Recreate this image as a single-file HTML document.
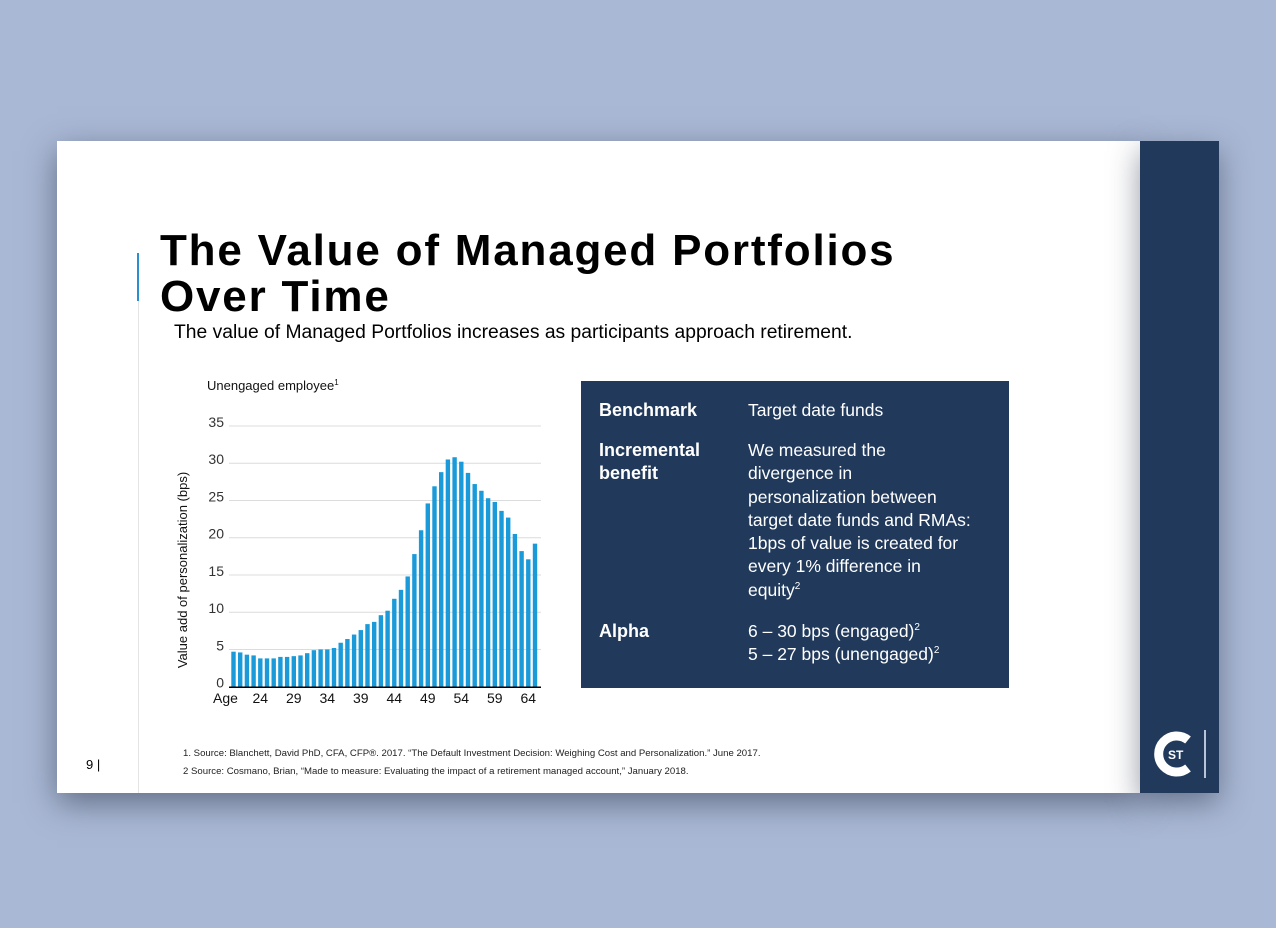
<!DOCTYPE html>
<html><head><meta charset="utf-8"><style>
body{margin:0;width:1276px;height:928px;background:#a9b8d5;position:relative;overflow:hidden;font-family:"Liberation Sans",sans-serif}
.abs{position:absolute}
#slide{left:57px;top:141px;width:1083px;height:652px;background:#fff;box-shadow:0 10px 30px rgba(40,50,70,.55)}
#strip{left:1140px;top:141px;width:79px;height:652px;background:#213a5c;box-shadow:0 10px 30px rgba(40,50,70,.5)}
h1{margin:0;font-weight:bold;font-size:44px;line-height:46px;color:#000;left:160px;top:228px;letter-spacing:1.8px}
.box{left:581px;top:381px;width:428px;height:307px;background:#213a5c;color:#fff}
.lab{position:absolute;left:18px;font-weight:bold;font-size:18px;line-height:23px}
.txt{position:absolute;left:167px;font-size:17.5px;line-height:23.3px}
sup{font-size:10px;line-height:0}
.fn{left:183px;font-size:9.6px;color:#222}
</style></head><body>
<div id="slide" class="abs"></div>
<div id="strip" class="abs"></div>
<div class="abs" style="left:137px;top:253px;width:2px;height:48px;background:#2a8fd0"></div>
<div class="abs" style="left:138px;top:301px;width:1px;height:492px;background:#e4e4e4"></div>
<h1 class="abs">The Value of Managed Portfolios<br>Over Time</h1>
<div class="abs" style="left:174px;top:322px;font-size:19.3px">The value of Managed Portfolios increases as participants approach retirement.</div>
<svg class="abs" style="left:0;top:0" width="600" height="720" id="chart"></svg>
<div class="abs box">
<div class="lab" style="top:18px">Benchmark</div>
<div class="txt" style="top:18px">Target date funds</div>
<div class="lab" style="top:58px">Incremental<br>benefit</div>
<div class="txt" style="top:58px;width:226px">We measured the divergence in personalization between target date funds and RMAs: 1bps of value is created for every 1% difference in equity<sup>2</sup></div>
<div class="lab" style="top:239px">Alpha</div>
<div class="txt" style="top:239px">6 – 30 bps (engaged)<sup>2</sup><br>5 – 27 bps (unengaged)<sup>2</sup></div>
</div>
<div class="abs" style="left:86px;top:757px;font-size:13px">9 |</div>
<div class="abs fn" style="top:748px">1. Source: Blanchett, David PhD, CFA, CFP®. 2017. “The Default Investment Decision: Weighing Cost and Personalization.” June 2017.</div>
<div class="abs fn" style="top:766px">2 Source: Cosmano, Brian, “Made to measure: Evaluating the impact of a retirement managed account,” January 2018.</div>
<svg class="abs" style="left:1150px;top:726px" width="62" height="56">
<path d="M 38 14 A 18 18 0 1 0 38 42" stroke="#fff" stroke-width="9" fill="none"/>
<text x="18" y="33" font-size="12" font-weight="bold" fill="#fff" font-family="Liberation Sans">ST</text>
<rect x="54" y="4" width="2" height="48" fill="#b8c4d8"/>
</svg>
<script>
const ages=[];for(let a=20;a<=65;a++)ages.push(a);
const values=[4.7,4.6,4.3,4.2,3.8,3.8,3.8,4.0,4.0,4.1,4.2,4.5,4.9,5.0,5.0,5.2,5.9,6.4,7.0,7.6,8.4,8.7,9.6,10.2,11.8,13.0,14.8,17.8,21.0,24.6,26.9,28.8,30.5,30.8,30.2,28.7,27.2,26.3,25.3,24.8,23.6,22.7,20.5,18.2,17.1,19.2];
const yTicks=[0,5,10,15,20,25,30,35];
const xLabels=[24,29,34,39,44,49,54,59,64];
const svg=document.getElementById('chart');const NS='http://www.w3.org/2000/svg';
const y0=686.7,pu=7.45,x0=233.5,step=6.7;
const Y=v=>y0-v*pu, X=a=>x0+(a-20)*step;
function mk(t,at){const e=document.createElementNS(NS,t);for(const k in at)e.setAttribute(k,at[k]);svg.appendChild(e);return e;}
yTicks.forEach(v=>{
 if(v>0){const g=mk('line',{x1:229,x2:541,y1:Y(v),y2:Y(v),stroke:'#dcdcdc','stroke-width':1});
 
 }
 const t=mk('text',{x:224,y:Y(v)+1,'text-anchor':'end','font-size':14,fill:'#333','font-family':'Liberation Sans'});t.textContent=v;
 
 
});
values.forEach((v,i)=>{const r=mk('rect',{x:X(ages[i])-2.2,y:Y(v),width:4.4,height:v*pu,fill:'#1a9ad8'});
 
 });
const ax=mk('line',{x1:229,x2:541,y1:y0+0.5,y2:y0+0.5,stroke:'#000','stroke-width':1.5});


xLabels.forEach(a=>{const t=mk('text',{x:X(a),y:703,'text-anchor':'middle','font-size':14,fill:'#111','font-family':'Liberation Sans'});t.textContent=a;
 
 });
const ag=mk('text',{x:213,y:703,'font-size':14,fill:'#111','font-family':'Liberation Sans'});ag.textContent='Age';


const yt=mk('text',{x:0,y:0,'font-size':13,fill:'#111','font-family':'Liberation Sans','text-anchor':'middle',transform:'translate(187,570) rotate(-90)'});yt.textContent='Value add of personalization (bps)';


const ct=mk('text',{x:207,y:390,'font-size':13,fill:'#111','font-family':'Liberation Sans'});ct.innerHTML='Unengaged employee<tspan font-size="8" dy="-5">1</tspan>';


</script>
</body></html>
